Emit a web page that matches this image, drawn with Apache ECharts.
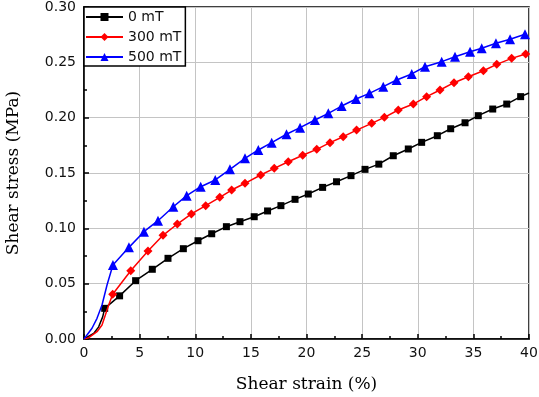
<!DOCTYPE html>
<html>
<head>
<meta charset="utf-8">
<script src="https://cdn.jsdelivr.net/npm/echarts@6/dist/echarts.min.js"></script>
<style>
  html, body { margin: 0; padding: 0; background: #fff; }
  #chart { width: 539px; height: 397px; }
</style>
</head>
<body>
<div id="chart"></div>
<script>
// series names
var seriesNames = ['0 mT', '300 mT', '500 mT'];

// [strain %, stress MPa] - initial rise, drawn without markers
var rise0 = [[0, 0], [0.87, 0.005], [1.32, 0.011], [1.68, 0.020]];
var rise300 = [[0, 0], [0.4, 0.001], [1.17, 0.0066], [1.62, 0.0127], [1.92, 0.0217], [2.22, 0.0307]];
var rise500 = [[0, 0], [0.72, 0.0097], [1.17, 0.0187], [1.62, 0.0307], [2.07, 0.0488]];

// [strain %, stress MPa] - marked points
var pts0 = [
  [1.86, 0.0277], [3.2, 0.039], [4.64, 0.0527], [6.14, 0.063], [7.55, 0.0729],
  [8.93, 0.0816], [10.25, 0.0888], [11.48, 0.0951], [12.8, 0.1015], [14.02, 0.106],
  [15.3, 0.1105], [16.5, 0.1157], [17.7, 0.1205], [18.97, 0.1262], [20.16, 0.131],
  [21.45, 0.137], [22.7, 0.1421], [24.0, 0.1476], [25.26, 0.1533], [26.5, 0.158],
  [27.8, 0.1656], [29.15, 0.1717], [30.35, 0.1777], [31.76, 0.1837], [32.96, 0.19],
  [34.25, 0.1954], [35.44, 0.2018], [36.74, 0.2078], [38.0, 0.2123], [39.25, 0.219]
];
var pts300 = [
  [2.58, 0.0404], [4.2, 0.0617], [5.75, 0.0795], [7.1, 0.0937], [8.39, 0.1039],
  [9.65, 0.113], [10.94, 0.1205], [12.2, 0.128], [13.27, 0.1346], [14.47, 0.1407],
  [15.88, 0.1482], [17.1, 0.1542], [18.36, 0.1602], [19.66, 0.166], [20.92, 0.1714],
  [22.11, 0.1774], [23.3, 0.1828], [24.5, 0.1888], [25.86, 0.1949], [27.0, 0.2003],
  [28.25, 0.2069], [29.6, 0.2123], [30.8, 0.219], [32.0, 0.225], [33.26, 0.2316],
  [34.55, 0.237], [35.9, 0.2424], [37.1, 0.2482], [38.44, 0.2536], [39.7, 0.2575]
];
var pts500 = [
  [2.6, 0.0669], [4.04, 0.0828], [5.39, 0.097], [6.65, 0.1069], [8.03, 0.1195],
  [9.23, 0.1295], [10.49, 0.1376], [11.8, 0.1437], [13.12, 0.1533], [14.47, 0.1633],
  [15.67, 0.1708], [16.87, 0.1774], [18.2, 0.185], [19.42, 0.191], [20.76, 0.1979],
  [21.96, 0.2039], [23.16, 0.2105], [24.45, 0.2169], [25.65, 0.222], [26.9, 0.228],
  [28.1, 0.234], [29.46, 0.2395], [30.65, 0.246], [32.15, 0.2506], [33.35, 0.2551],
  [34.7, 0.2596], [35.75, 0.2627], [37.03, 0.2672], [38.3, 0.2708], [39.64, 0.2753]
];
// end of the black curve (no marker)
var tail0 = [[40, 0.2223]];

function build(rise, pts, tail) {
  var out = [];
  rise.forEach(function(p) { out.push({ value: p, symbol: 'none' }); });
  pts.forEach(function(p) { out.push(p); });
  (tail || []).forEach(function(p) { out.push({ value: p, symbol: 'none' }); });
  return out;
}

var tickFont = { fontFamily: 'DejaVu Sans', fontSize: 14, color: '#111' };
var black = { color: '#000', width: 1.5 };

var chart = echarts.init(document.getElementById('chart'), null, { renderer: 'canvas' });
chart.setOption({
  animation: false,
  backgroundColor: '#fff',
  grid: {
    left: 84, right: 10, top: 7, bottom: 58,
    show: true, borderColor: '#000', borderWidth: 1.5,
    backgroundColor: 'transparent',
    containLabel: false,
    outerBoundsMode: 'none'
  },
  legend: {
    left: 84, top: 7,
    orient: 'vertical',
    data: seriesNames,
    itemWidth: 37, itemHeight: 10, itemGap: 6,
    padding: [3, 4, 2, 1],
    borderColor: '#000', borderWidth: 1.5,
    backgroundColor: '#fff',
    textStyle: { fontFamily: 'DejaVu Sans', fontSize: 14, color: '#111', lineHeight: 14 }
  },
  xAxis: {
    type: 'value', min: 0, max: 40, interval: 5,
    name: 'Shear strain (%)',
    nameLocation: 'middle', nameGap: 37,
    nameTextStyle: { fontFamily: 'DejaVu Serif', fontSize: 17, color: '#000' },
    axisLine: { lineStyle: black },
    axisTick: { inside: true, length: 5, lineStyle: black },
    minorTick: { show: true, splitNumber: 2, length: 3, lineStyle: black },
    axisLabel: Object.assign({ margin: 7 }, tickFont),
    splitLine: { show: true, lineStyle: { color: '#c4c4c4', width: 1 } }
  },
  yAxis: {
    type: 'value', min: 0, max: 0.3, interval: 0.05,
    name: 'Shear stress (MPa)',
    nameLocation: 'middle', nameGap: 62,
    nameTextStyle: { fontFamily: 'DejaVu Serif', fontSize: 17, color: '#000' },
    axisLine: { show: true, lineStyle: black },
    axisTick: { show: true, inside: true, length: 5, lineStyle: black },
    minorTick: { show: true, splitNumber: 2, length: 3, lineStyle: black },
    axisLabel: Object.assign({
      margin: 8,
      formatter: function(v) { return v.toFixed(2); }
    }, tickFont),
    splitLine: { show: true, lineStyle: { color: '#c4c4c4', width: 1 } }
  },
  series: [
    {
      name: seriesNames[0], type: 'line',
      data: build(rise0, pts0, tail0),
      symbol: 'rect', symbolSize: 7, showAllSymbol: true,
      lineStyle: { color: '#000', width: 1.5 },
      itemStyle: { color: '#000' },
      z: 3
    },
    {
      name: seriesNames[1], type: 'line',
      data: build(rise300, pts300),
      symbol: 'diamond', symbolSize: 9, showAllSymbol: true,
      lineStyle: { color: '#ff0000', width: 1.5 },
      itemStyle: { color: '#ff0000' },
      z: 4
    },
    {
      name: seriesNames[2], type: 'line',
      data: build(rise500, pts500),
      symbol: 'triangle', symbolSize: 10, showAllSymbol: true,
      lineStyle: { color: '#0000ff', width: 1.5 },
      itemStyle: { color: '#0000ff' },
      z: 5
    }
  ]
});
window.addEventListener('resize', function() { chart.resize(); });
</script>
</body>
</html>
